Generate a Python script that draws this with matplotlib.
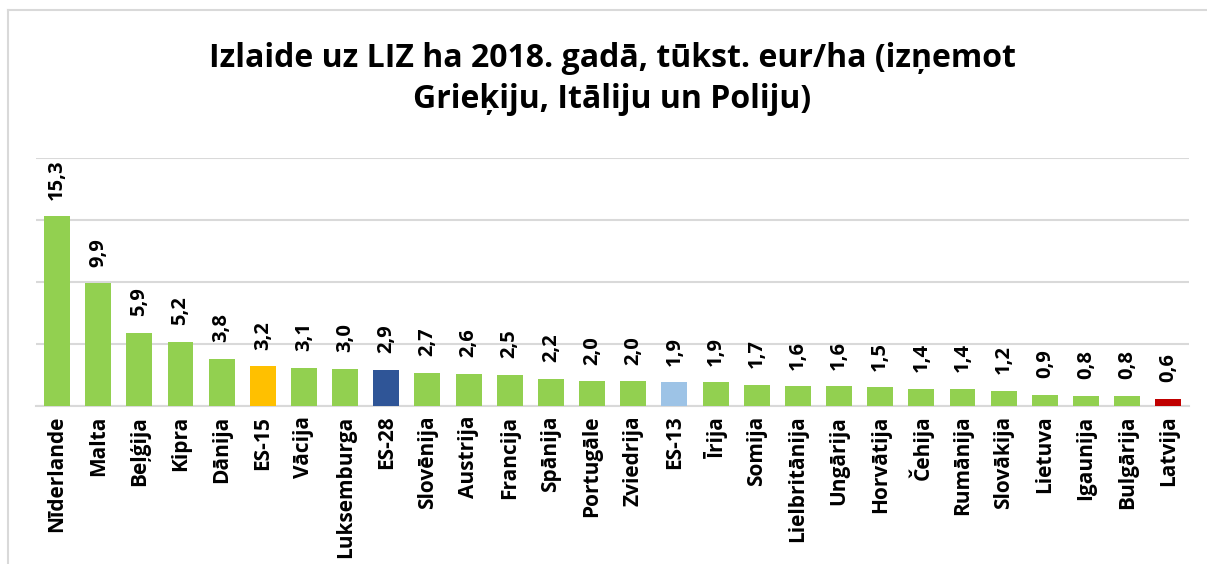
import matplotlib.pyplot as plt
from matplotlib.lines import Line2D

plt.rcParams['font.family'] = ['Open Sans', 'DejaVu Sans']

# dati -----------------------------
valstis = ['Nīderlande', 'Malta', 'Beļģija', 'Kipra', 'Dānija', 'ES-15', 'Vācija',
           'Luksemburga', 'ES-28', 'Slovēnija', 'Austrija', 'Francija', 'Spānija',
           'Portugāle', 'Zviedrija', 'ES-13', 'Īrija', 'Somija', 'Lielbritānija',
           'Ungārija', 'Horvātija', 'Čehija', 'Rumānija', 'Slovākija', 'Lietuva',
           'Igaunija', 'Bulgārija', 'Latvija']
izlaide = [15.3, 9.9, 5.9, 5.2, 3.8, 3.2, 3.1, 3.0, 2.9, 2.7, 2.6, 2.5, 2.2,
           2.0, 2.0, 1.9, 1.9, 1.7, 1.6, 1.6, 1.5, 1.4, 1.4, 1.2, 0.9, 0.8, 0.8, 0.6]

krasas = {'ES-15': '#FFC000', 'ES-28': '#2F5597', 'ES-13': '#9DC3E6', 'Latvija': '#C00000'}
colors = [krasas.get(v, '#92D050') for v in valstis]

fig = plt.figure(figsize=(12.07, 5.64), dpi=100)
ax = fig.add_axes([0.0302, 0.2801, 0.9548, 0.4398])

x = range(len(valstis))
bars = ax.bar(x, izlaide, width=0.63, color=colors, zorder=3)

for xi, v in zip(x, izlaide):
    ax.annotate(f'{v:.1f}'.replace('.', ','), (xi, v), xytext=(0, 12),
                textcoords='offset points', rotation=90, ha='center', va='bottom',
                fontsize=14.5, fontweight='bold')

ax.set_xlim(-0.5, len(valstis) - 0.5)
ax.set_ylim(0, 20)
ax.set_yticks([0, 5, 10, 15, 20])
ax.set_yticklabels([])
ax.tick_params(axis='y', length=0)
ax.tick_params(axis='x', length=0, pad=7)
ax.set_xticks(list(x))
ax.set_xticklabels(valstis, rotation=90, fontsize=15, fontweight='bold')
ax.grid(axis='y', color='#D9D9D9', linewidth=1.5, zorder=0)
for s in ['top', 'right', 'left']:
    ax.spines[s].set_visible(False)
ax.spines['bottom'].set_color('#D9D9D9')
ax.spines['bottom'].set_linewidth(1.5)

fig.text(0.507, 0.86, 'Izlaide uz LIZ ha 2018. gadā, tūkst. eur/ha (izņemot\nGrieķiju, Itāliju un Poliju)',
         ha='center', va='center', fontsize=23, fontweight='bold', linespacing=1.3)

# rāmis
fig.add_artist(Line2D([8 / 1207, 8 / 1207], [0, 1 - 10 / 564], color='#D9D9D9', linewidth=1.5))
fig.add_artist(Line2D([8 / 1207, 1], [1 - 10 / 564, 1 - 10 / 564], color='#D9D9D9', linewidth=1.5))

fig.savefig('out.png', dpi=100)
